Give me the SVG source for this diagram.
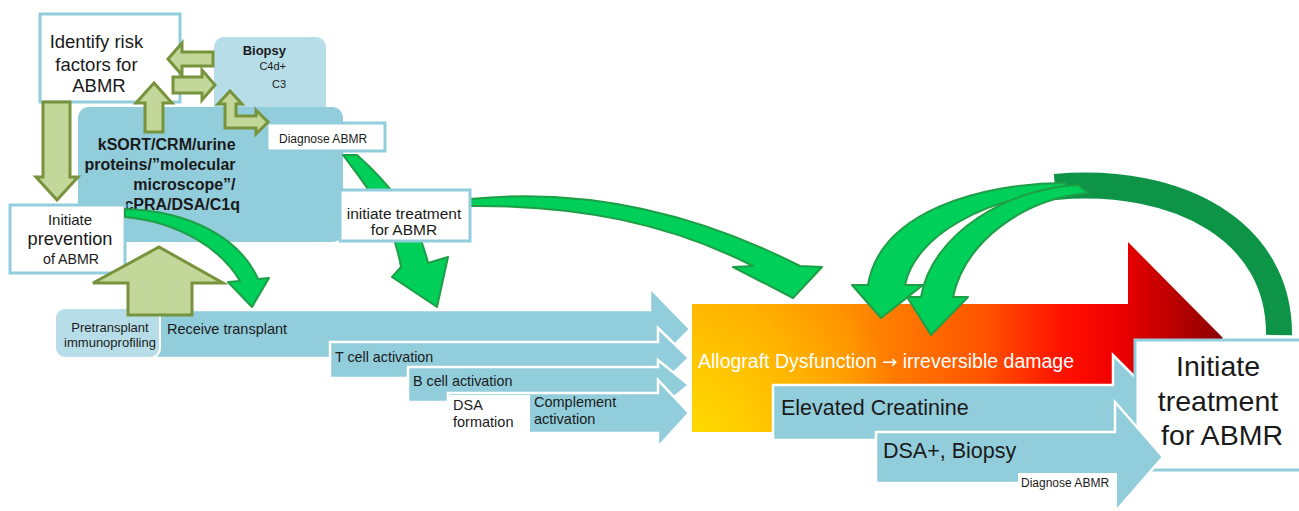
<svg xmlns="http://www.w3.org/2000/svg" width="1299" height="511" viewBox="0 0 1299 511">
<defs>
<linearGradient id="gArrow" gradientUnits="userSpaceOnUse" x1="692" y1="0" x2="1223" y2="0">
<stop offset="0" stop-color="#ffa400"/>
<stop offset="0.3" stop-color="#ff8c00"/>
<stop offset="0.55" stop-color="#ff5400"/>
<stop offset="0.7" stop-color="#ff1000"/>
<stop offset="0.8" stop-color="#f00000"/>
<stop offset="1" stop-color="#8c0000"/>
</linearGradient>
<radialGradient id="gYellow" gradientUnits="userSpaceOnUse" cx="692" cy="440" r="210">
<stop offset="0" stop-color="#ffdc00" stop-opacity="1"/>
<stop offset="1" stop-color="#ffdc00" stop-opacity="0"/>
</radialGradient>
</defs>
<style>
.txt{font-family:"Liberation Sans",Arial,sans-serif;fill:#1a1a1a}
.wbox{fill:#ffffff;stroke:#92cddc;stroke-width:3}
.blue{fill:#92cddc}
.lblue{fill:#b7dee8}
.bar{fill:#92cddc;stroke:#ffffff;stroke-width:2.5;stroke-linejoin:miter}
.olive{fill:#c4d79b;stroke:#77933c;stroke-width:3;stroke-linejoin:miter}
.green{fill:#00cf5a;stroke:#1e9e46;stroke-width:2;stroke-linejoin:round}
</style>
<rect width="1299" height="511" fill="#ffffff"/>

<!-- timeline bars -->
<g id="receive">
<path class="bar" d="M155 310 H650 V288 L690 329 L650 370 V358 H155 Z"/>
<text class="txt" x="167" y="334" font-size="14.5">Receive transplant</text>
</g>
<g id="tcell">
<path class="bar" d="M330 342 H658 V328 L689 358 L658 388 V378 H330 Z"/>
<text class="txt" x="335" y="362" font-size="14.3">T cell activation</text>
</g>
<g id="bcell">
<path class="bar" d="M408 367 H658 V360 L689 385 L658 410 V402 H408 Z"/>
<text class="txt" x="413" y="386" font-size="14.3">B cell activation</text>
</g>
<g id="complement">
<path class="bar" d="M448 393 H658 V380 L689 413 L658 447 V433 H448 Z"/>
<text class="txt" x="534" y="407" font-size="14.5">Complement</text>
<text class="txt" x="534" y="424" font-size="14.5">activation</text>
</g>
<g id="dsaformation">
<rect x="447" y="395" width="83" height="40" fill="#ffffff"/>
<text class="txt" x="453" y="410" font-size="14.5">DSA</text>
<text class="txt" x="453" y="427" font-size="14.5">formation</text>
</g>
<g id="pretransplant">
<rect class="lblue" x="55" y="308" width="105" height="50" rx="10" stroke="#ffffff" stroke-width="2"/>
<text class="txt" x="110" y="332" font-size="13" text-anchor="middle">Pretransplant</text>
<text class="txt" x="110" y="347" font-size="13" text-anchor="middle">immunoprofiling</text>
</g>

<!-- top-left cluster -->
<g id="biopsy">
<rect class="lblue" x="214" y="37" width="112" height="90" rx="10"/>
<text class="txt" x="286" y="55" font-size="13" font-weight="bold" text-anchor="end">Biopsy</text>
<text class="txt" x="286" y="70" font-size="11" text-anchor="end">C4d+</text>
<text class="txt" x="286" y="88" font-size="11" text-anchor="end">C3</text>
</g>
<g id="ksort">
<rect class="blue" x="78" y="107" width="265" height="135" rx="11"/>
<text class="txt" font-size="16" font-weight="bold" text-anchor="end">
<tspan x="240" y="150">kSORT/CRM/urine</tspan>
<tspan x="240" y="170">proteins/”molecular</tspan>
<tspan x="240" y="190">microscope”/</tspan>
<tspan x="240" y="210">cPRA/DSA/C1q</tspan>
</text>
</g>
<g id="identify">
<rect class="wbox" x="40" y="14" width="140" height="88"/>
<text class="txt" font-size="18.5" text-anchor="middle">
<tspan x="99" y="48">Identify risk</tspan>
<tspan x="99" y="71">factors for</tspan>
<tspan x="99" y="92">ABMR</tspan>
</text>
</g>
<g id="diagnose-top">
<rect class="wbox" x="267" y="123" width="118" height="28" stroke-width="2"/>
<text class="txt" x="279" y="143" font-size="12">Diagnose ABMR</text>
</g>
<g id="prevention">
<rect class="wbox" x="10" y="205" width="115" height="68"/>
<text class="txt" x="70" y="225" font-size="15" text-anchor="middle">Initiate</text>
<text class="txt" x="70" y="245" font-size="18.2" text-anchor="middle">prevention</text>
<text class="txt" x="71" y="264" font-size="14.2" text-anchor="middle">of ABMR</text>
</g>

<!-- right side -->
<g id="allograft">
<path d="M692 304 H1128 V242 L1223 338 L1128 434 V432 H692 Z" fill="url(#gArrow)"/>
<rect x="692" y="304" width="220" height="128" fill="url(#gYellow)"/>
<text x="698" y="368" font-size="19.5" fill="#ffffff" font-family="'Liberation Sans',Arial,sans-serif">Allograft Dysfunction <tspan font-family="'DejaVu Sans',sans-serif" font-size="18">→</tspan> irreversible damage</text>
</g>
<g id="creatinine">
<path class="bar" d="M773 385 H1113 V355 L1170 412 L1113 469 V440 H773 Z"/>
<text class="txt" x="781" y="415" font-size="21.5">Elevated Creatinine</text>
</g>
<g id="initiate-treatment-big">
<rect class="wbox" x="1135" y="340" width="170" height="130"/>
<text class="txt" font-size="28.5" text-anchor="middle">
<tspan x="1222" y="376">Initiate</tspan>
<tspan x="1222" y="411">treatment</tspan>
<tspan x="1222" y="445">for ABMR</tspan>
</text>
</g>
<g id="dsabiopsy">
<path class="bar" d="M876 432 H1115 V402 L1163 457 L1115 512 V483 H876 Z"/>
<text class="txt" x="883" y="458" font-size="21.5">DSA+, Biopsy</text>
</g>
<g id="diagnose-bottom">
<rect x="1018" y="473" width="99" height="45" fill="#ffffff"/>
<text class="txt" x="1021" y="487" font-size="12">Diagnose ABMR</text>
</g>

<!-- connectors -->
<g id="connectors">
<path class="olive" d="M213 52 H182 V43 L168 59 L182 75 V66 H213 Z"/>
<path class="olive" d="M173 77 H202 V70 L215 85 L202 100 V93 H173 Z"/>
<path class="olive" d="M145 132 V103 H136 L154 83 L172 103 H163 V132 Z"/>
<path class="olive" d="M230 91 L242 104 H236 V116 H256 V110 L268 122 L256 134 V128 H225 V104 H218 Z"/>
<path class="olive" d="M43 102 H70 V177 H78 L57 200 L36 177 H43 Z"/>
<path class="olive" d="M128 315 V283 H93 L159 247 L223 283 H192 V315 Z"/>
<path class="green" d="M125 209 C190 211 240 238 258 279 L269 278 L252 307 L228 282 L240 281 C222 250 180 222 125 217 Z"/>
<path class="green" d="M343 155 C365 185 392 215 401 267 L392 277 L437 307 L448 257 L428 263 C417 215 385 180 357 155 Z"/>
<path class="green" d="M470 199 C580 188 690 210 800 266 L822 267 L793 298 L733 267 L753 266 C670 224 580 205 470 206 Z"/>
<path d="M1055 187 C1180 176 1280 232 1279 335" fill="none" stroke="#0e9447" stroke-width="26"/>
<path class="green" d="M1065 183 C980 183 880 212 868 285 L852 285 L881 318 L923 285 L905 285 C915 236 985 196 1070 191 Z"/>
<path class="green" d="M1078 185 C1010 188 932 232 921 297 L907 297 L931 335 L968 297 L953 297 C965 242 1022 199 1088 193 Z"/>
</g>

<g id="initiate-treatment-mid">
<rect class="wbox" x="340" y="190" width="130" height="51" stroke-width="2"/>
<text class="txt" x="404" y="219" font-size="15.5" text-anchor="middle">initiate treatment</text>
<text class="txt" x="404" y="235" font-size="15.5" text-anchor="middle">for ABMR</text>
</g>
</svg>
